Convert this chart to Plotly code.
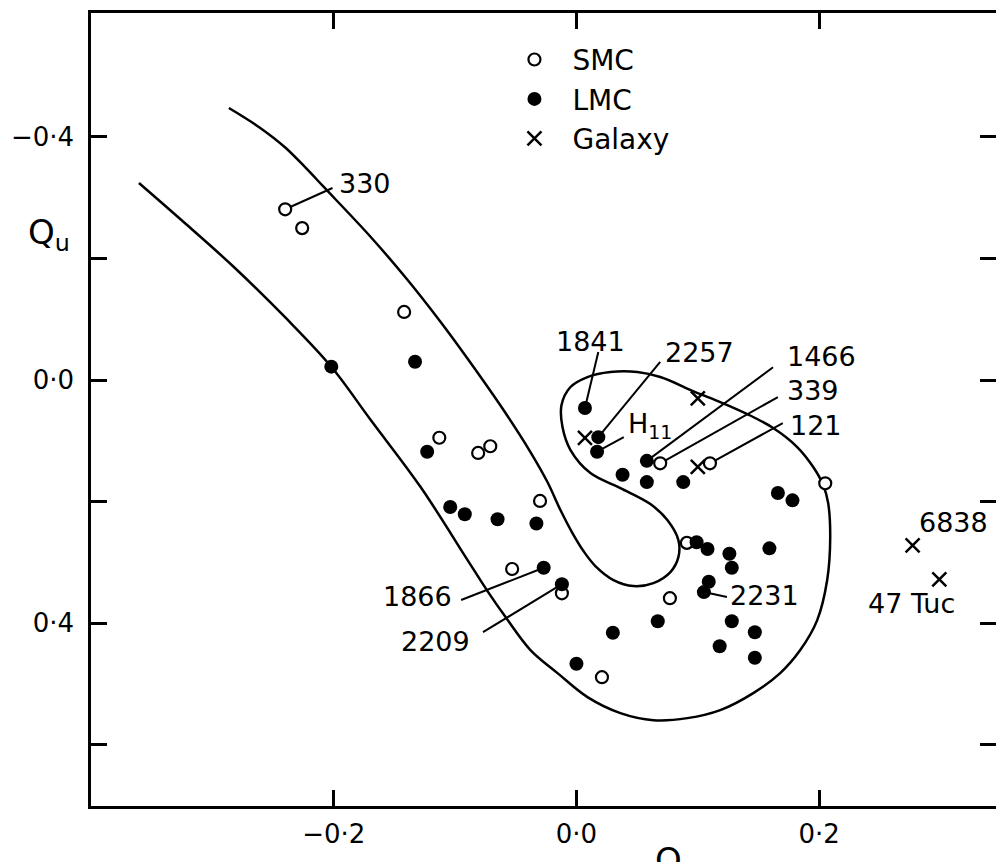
import plotly.graph_objects as go

# ---------------- data (Q_V, Q_U) ----------------
smc_x = [-0.240, -0.226, -0.142, -0.113, -0.081, -0.071, -0.030, -0.053, -0.012,
         0.069, 0.110, 0.205, 0.091, 0.077, 0.021]
smc_y = [-0.281, -0.250, -0.112, 0.095, 0.120, 0.109, 0.199, 0.311, 0.351,
         0.137, 0.137, 0.170, 0.268, 0.359, 0.489]

lmc_x = [-0.202, -0.133, -0.123, -0.104, -0.092, -0.065, -0.033, -0.027, -0.012,
         0.000, 0.030, 0.067, 0.118, 0.128, 0.147, 0.147, 0.105, 0.109, 0.126,
         0.128, 0.099, 0.108, 0.159, 0.166, 0.178, 0.007, 0.018, 0.017, 0.058,
         0.038, 0.058, 0.088]
lmc_y = [-0.022, -0.030, 0.118, 0.209, 0.221, 0.229, 0.236, 0.309, 0.336,
         0.467, 0.416, 0.397, 0.438, 0.397, 0.415, 0.457, 0.349, 0.332, 0.286,
         0.309, 0.267, 0.278, 0.277, 0.186, 0.198, 0.046, 0.094, 0.118, 0.133,
         0.156, 0.168, 0.168]

gal_x = [0.007, 0.100, 0.100, 0.277, 0.299]
gal_y = [0.095, 0.030, 0.143, 0.272, 0.328]

# boundary curve (one continuous line)
curve_x = [-0.2864, -0.2617, -0.2395, -0.2230, -0.2082, -0.1695, -0.1391, -0.1119,
           -0.0889, -0.0601, -0.0379, -0.0239, -0.0132, -0.0033, 0.0058, 0.0156,
           0.0305, 0.0469, 0.0634, 0.0774, 0.0840, 0.0840, 0.0749, 0.0609, 0.0362,
           0.0115, -0.0049, -0.0115, -0.0123, -0.0049, 0.0091, 0.0280, 0.0502,
           0.0691, 0.0979, 0.1185, 0.1407, 0.1621, 0.1819, 0.1951, 0.2033, 0.2074,
           0.2091, 0.2066, 0.1984, 0.1844, 0.1679, 0.1457, 0.1185, 0.0914, 0.0634,
           0.0362, 0.0091, -0.0156, -0.0379, -0.0584, -0.0733, -0.0897, -0.1284,
           -0.1695, -0.2025, -0.2395, -0.2823, -0.3218, -0.3605]
curve_y = [-0.4477, -0.4165, -0.3819, -0.3490, -0.3177, -0.2354, -0.1646, -0.0955,
           -0.0329, 0.0494, 0.1185, 0.1679, 0.2140, 0.2519, 0.2815, 0.3062,
           0.3292, 0.3391, 0.3342, 0.3160, 0.2914, 0.2634, 0.2305, 0.2041, 0.1778,
           0.1531, 0.1152, 0.0774, 0.0412, 0.0115, -0.0049, -0.0132, -0.0132,
           -0.0049, 0.0198, 0.0362, 0.0560, 0.0790, 0.1103, 0.1432, 0.1728, 0.2025,
           0.2584, 0.3292, 0.3951, 0.4444, 0.4823, 0.5152, 0.5432, 0.5564, 0.5597,
           0.5481, 0.5218, 0.4823, 0.4444, 0.3901, 0.3473, 0.2963, 0.1761,
           0.0658, -0.0230, -0.1021, -0.1860, -0.2568, -0.3243]

# labelled clusters: (text, series, index)
label_names = ["330", "1841", "2257", "H<sub>11</sub>", "1466", "339", "121",
               "1866", "2209", "2231", "6838", "47 Tuc"]
label_series = ["smc", "lmc", "lmc", "lmc", "lmc", "smc", "smc",
                "lmc", "lmc", "lmc", "gal", "gal"]
label_index = [0, 25, 26, 27, 28, 9, 10, 7, 8, 16, 3, 4]

x_tickvals = [-0.2, 0.0, 0.2]
x_ticktext = ["\u22120·2", "0·0", "0·2"]
y_tickvals = [-0.4, 0.0, 0.4]
y_ticktext = ["\u22120·4", "0·0", "0·4"]
y_minor_ticks = [-0.2, 0.2, 0.6]
y_all_ticks = [-0.4, -0.2, 0.0, 0.2, 0.4, 0.6]

# ---------------- layout of labels (positions, not data) ----------------
# leader-line end (None = no line), text anchor point, anchor side
label_layout = [
    ((-0.201, -0.316), (-0.197, -0.324), "left"),
    ((0.018, -0.046), (0.0115, -0.063), "center"),
    ((0.069, -0.030), (0.071, -0.046), "left"),
    ((0.039, 0.094), (0.041, 0.074), "left"),
    ((0.162, -0.021), (0.172, -0.038), "left"),
    ((0.166, 0.028), (0.172, 0.018), "left"),
    ((0.170, 0.071), (0.174, 0.074), "left"),
    ((-0.095, 0.362), (-0.101, 0.356), "right"),
    ((-0.077, 0.415), (-0.086, 0.430), "right"),
    ((0.124, 0.357), (0.125, 0.354), "left"),
    (None, (0.281, 0.235), "left"),
    (None, (0.276, 0.367), "center"),
]

FONT = "DejaVu Sans"
Y_RANGE = [0.701, -0.604]
series = {"smc": (smc_x, smc_y), "lmc": (lmc_x, lmc_y), "gal": (gal_x, gal_y)}

fig = go.Figure()

fig.add_trace(go.Scatter(x=curve_x, y=curve_y, mode="lines",
                         line=dict(color="black", width=2.5, shape="spline", smoothing=1.0),
                         showlegend=False, hoverinfo="skip"))

annotations = []
for name, s, i, (lend, tpos, anch) in zip(label_names, label_series, label_index, label_layout):
    px, py = series[s][0][i], series[s][1][i]
    if lend is not None:
        fig.add_trace(go.Scatter(x=[px, lend[0]], y=[py, lend[1]], mode="lines",
                                 line=dict(color="black", width=2),
                                 showlegend=False, hoverinfo="skip"))
    annotations.append(dict(x=tpos[0], y=tpos[1], xref="x", yref="y", text=name,
                            showarrow=False, xanchor=anch, yanchor="middle",
                            font=dict(family=FONT, size=27, color="black")))

fig.add_trace(go.Scatter(x=smc_x, y=smc_y, mode="markers", name="SMC",
                         marker=dict(symbol="circle", size=12, color="white",
                                     line=dict(color="black", width=2.2))))
fig.add_trace(go.Scatter(x=lmc_x, y=lmc_y, mode="markers", name="LMC",
                         marker=dict(symbol="circle", size=14, color="black",
                                     line=dict(color="black", width=0))))
fig.add_trace(go.Scatter(x=gal_x, y=gal_y, mode="markers", name="Galaxy",
                         marker=dict(symbol="x-thin-open", size=14, color="black",
                                     line=dict(color="black", width=2.5))))
# empty trace that carries the right-hand tick axis
fig.add_trace(go.Scatter(x=[None], y=[None], yaxis="y2", showlegend=False,
                         hoverinfo="skip"))

# axis titles
annotations.append(dict(x=-0.4, y=-0.24, xref="x", yref="y", xshift=-42,
                        text="Q<sub>u</sub>", showarrow=False, xanchor="center",
                        yanchor="middle",
                        font=dict(family=FONT, size=34, color="black")))
annotations.append(dict(x=0.082, y=0.70, xref="x", yref="y", yshift=-33,
                        text="Q<sub>v</sub>", showarrow=False, xanchor="center",
                        yanchor="top",
                        font=dict(family=FONT, size=34, color="black")))

tick_style = dict(ticks="inside", ticklen=16, tickwidth=2.5, tickcolor="black")
tfont = dict(family=FONT, size=26, color="black")

fig.update_layout(
    width=996, height=862,
    margin=dict(l=91, r=0, t=13, b=56),
    paper_bgcolor="white", plot_bgcolor="white",
    xaxis=dict(range=[-0.4, 0.3457], tickvals=x_tickvals, ticktext=x_ticktext,
               ticklabelstandoff=3, showgrid=False, zeroline=False, showline=True,
               linecolor="black", linewidth=2.5, mirror="ticks", tickfont=tfont,
               **tick_style),
    yaxis=dict(range=Y_RANGE, tickvals=y_tickvals, ticktext=y_ticktext,
               ticklabelstandoff=9, showgrid=False, zeroline=False, showline=True,
               linecolor="black", linewidth=2.5, mirror=False, tickfont=tfont,
               minor=dict(tickvals=y_minor_ticks, **tick_style),
               **tick_style),
    yaxis2=dict(range=Y_RANGE, overlaying="y", side="right", tickvals=y_all_ticks,
                showticklabels=False, showline=False, showgrid=False, zeroline=False,
                **tick_style),
    legend=dict(x=0.448, y=0.9725, xanchor="left", yanchor="top",
                bgcolor="rgba(0,0,0,0)", itemwidth=66,
                font=dict(family=FONT, size=28, color="black")),
    annotations=annotations,
)

fig.write_html(
    "out.html",
    config={"displayModeBar": False},
    post_script="document.body.style.margin='0';document.body.style.overflow='hidden';",
)
